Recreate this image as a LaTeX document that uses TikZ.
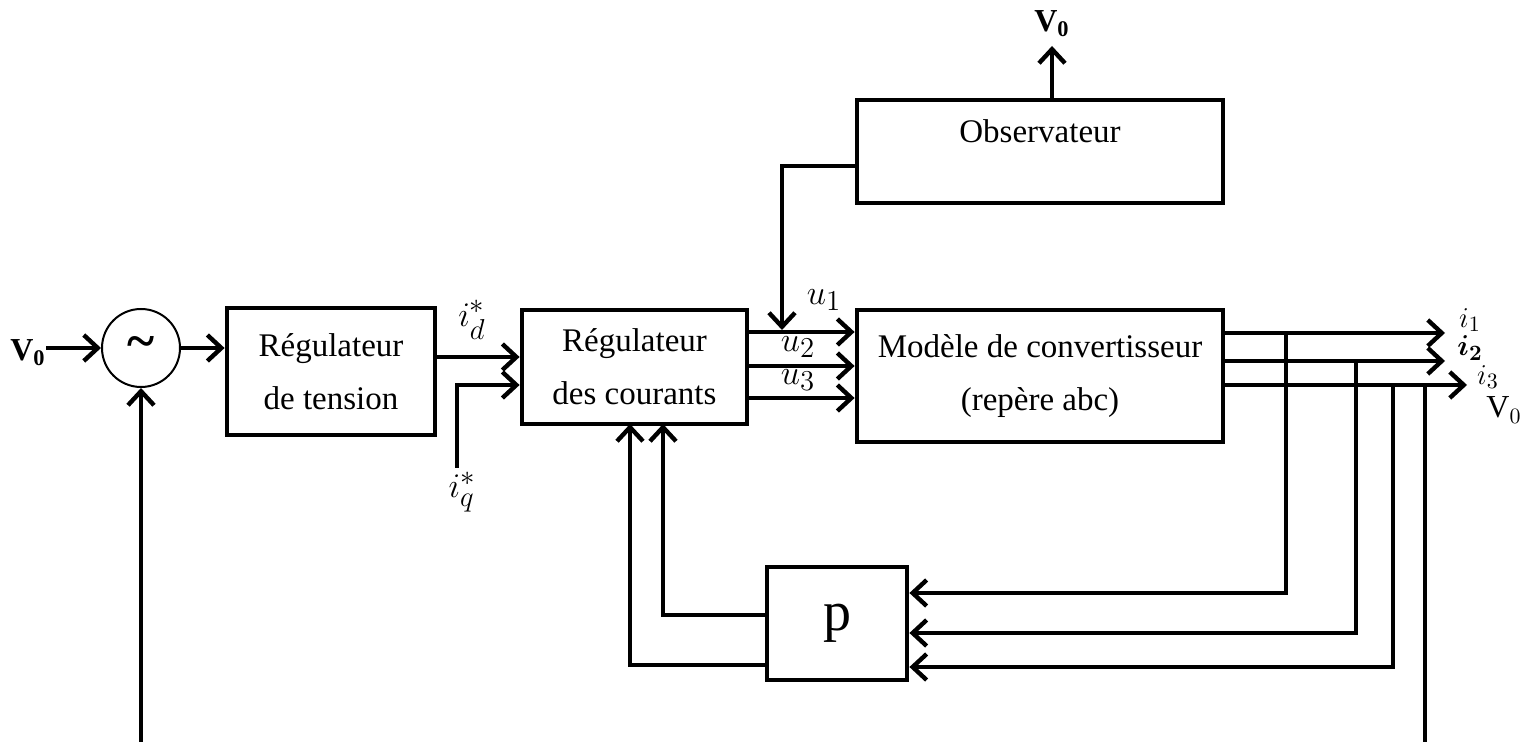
\documentclass[tikz,border=0pt]{standalone}
\usepackage{amsmath}
\usepackage{fontspec}
\setmainfont{Liberation Serif}
\usetikzlibrary{arrows.meta,calc}
\begin{document}
\begin{tikzpicture}[x=0.5pt,y=-0.5pt,
  every node/.style={inner sep=0pt},
  blk/.style={draw,line width=2.4pt,rectangle,align=center,font=\fontsize{16.5}{26.5}\selectfont},
  arr/.style={line width=2.2pt,-{Straight Barb[length=7pt,width=13pt,line width=2.2pt]}},
  lbl/.style={font=\fontsize{19}{20}\selectfont},
  ilbl/.style={font=\fontsize{15}{16}\selectfont},
  vlab/.style={font=\fontsize{16}{17}\selectfont}]
\useasboundingbox (0,0) rectangle (1525,742);
% blocks
\node[draw,circle,line width=1pt,minimum size=39pt,font=\bfseries\fontsize{26}{26}\selectfont] (sum) at (141,348) {\raisebox{-0.3ex}{\textasciitilde}};
\node[blk,minimum width=104pt,minimum height=63.5pt] (rt) at (331,371.5) {Régulateur\\de tension};
\node[blk,minimum width=112.5pt,minimum height=57pt] (rc) at (634.5,367) {Régulateur\\des courants};
\node[blk,minimum width=183pt,minimum height=66pt] (mod) at (1040,376) {Modèle de convertisseur\\(repère abc)};
\node[blk,minimum width=183pt,minimum height=51.5pt] (obs) at (1040,151.5) {};
\node[font=\fontsize{16.5}{18}\selectfont] (obst) at (1040,131) {Observateur};
\node[blk,minimum width=70pt,minimum height=56.5pt,font=\fontsize{28}{28}\selectfont] (p) at (837,623.5) {p};
% labels
\node[vlab] (v0in) at (28,353) {\textbf{V$_{\mathbf{0}}$}};
\node[vlab] (v0top) at (1052,24) {\textbf{V$_{\mathbf{0}}$}};
\node[vlab] (v0r) at (1504,410) {V$_0$};
\node[lbl] (idl) at (472,320) {$i_d^*$};
\node[lbl] (iql) at (462,492) {$i_q^*$};
\node[lbl] (u1l) at (824,300) {$u_1$};
\node[lbl] (u2l) at (798,347) {$u_2$};
\node[lbl] (u3l) at (798,380) {$u_3$};
\node[ilbl] (i1l) at (1470,320) {$i_1$};
\node[ilbl] (i2l) at (1470,348) {$\boldsymbol{i_2}$};
\node[ilbl] (i3l) at (1488,377) {$i_3$};
% coordinates
\coordinate (iqs) at (457,468);
\coordinate (o1) at (1445,333);
\coordinate (o2) at (1445,361);
\coordinate (o3) at (1467,385);
\coordinate (v0e) at (1052,46);
\coordinate (bot) at (1425,760);
% connectors
\draw[arr] (sum.west -| v0in.east) -- (sum.west);
\draw[arr] (sum.east) -- (rt.west |- sum.east);
\draw[arr] (rt.east |- 0,357) -- (rc.west |- 0,357);
\draw[arr] (iqs) |- (rc.west |- 0,385);
\draw[arr] (rc.east |- 0,332) -- (mod.west |- 0,332);
\draw[arr] (rc.east |- 0,366) -- (mod.west |- 0,366);
\draw[arr] (rc.east |- 0,398) -- (mod.west |- 0,398);
\draw[arr] (obs.west |- 0,166) -| (782,330);
\draw[arr] (obs.north -| v0e) -- (v0e);
\draw[arr] (mod.east |- o1) -- (o1);
\draw[arr] (mod.east |- o2) -- (o2);
\draw[arr] (mod.east |- o3) -- (o3);
\draw[arr] (1286,333) |- (p.east |- 0,593);
\draw[arr] (1356,361) |- (p.east |- 0,633);
\draw[arr] (1393,385) |- (p.east |- 0,667);
\draw[arr] (1425,385) -- (bot) -| (sum.south);
\draw[arr] (p.west |- 0,615) -| (663,424);
\draw[arr] (p.west |- 0,665) -| (630,424);
\end{tikzpicture}
\end{document}
